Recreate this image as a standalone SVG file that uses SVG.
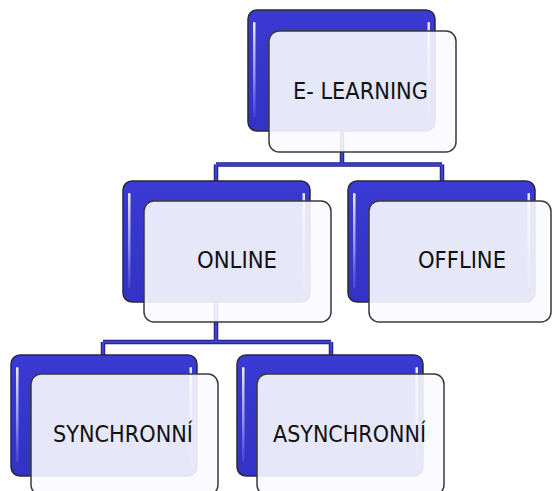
<svg xmlns="http://www.w3.org/2000/svg" width="552" height="491" viewBox="0 0 552 491">
<defs>
<linearGradient id="gBlue" x1="0" y1="0" x2="0" y2="1">
<stop offset="0" stop-color="#3a3ad4"/>
<stop offset="0.5" stop-color="#3636cc"/>
<stop offset="1" stop-color="#3232c4"/>
</linearGradient>
<linearGradient id="gGleam" x1="0" y1="0" x2="0" y2="1">
<stop offset="0" stop-color="#ffffff" stop-opacity="0.9"/>
<stop offset="0.6" stop-color="#c8c8ff" stop-opacity="0.6"/>
<stop offset="1" stop-color="#8080f0" stop-opacity="0.25"/>
</linearGradient>
<style>
.back{fill:url(#gBlue);stroke:#2a2a3a;stroke-width:1.5}
.gleam{fill:url(#gGleam)}
.front{fill:#fbfbff;fill-opacity:0.9;stroke:#3a3a3a;stroke-width:1.5}
.lbl{font-family:"DejaVu Sans Condensed","DejaVu Sans",sans-serif;font-size:22.5px;fill:#111111}
.cOut{fill:none;stroke:#1e1e78;stroke-width:4.5}
.cIn{fill:none;stroke:#4040d4;stroke-width:2.5}
</style>
</defs>
<rect width="552" height="491" fill="#ffffff"/>
<g id="connectors">
<path class="cOut" d="M342,132 V164.5 M216,164.5 H442 M216,164.5 V181 M442,164.5 V181 M216,302 V342 M103,342 H331 M103,342 V355 M331,342 V355"/>
<path class="cIn" d="M342,132 V164.5 M216,164.5 H442 M216,164.5 V181 M442,164.5 V181 M216,302 V342 M103,342 H331 M103,342 V355 M331,342 V355"/>
</g>
<g id="e-learning">
<rect class="back" x="248" y="10" width="187" height="121" rx="9"/>
<rect class="gleam" x="253" y="22" width="2.5" height="95" rx="1.2"/>
<rect class="gleam" x="427.5" y="22" width="2.5" height="95" rx="1.2"/>
<rect class="front" x="269" y="31" width="187" height="121" rx="10"/>
<text class="lbl" x="293" y="98.5" textLength="135" lengthAdjust="spacingAndGlyphs">E- LEARNING</text>
</g>
<g id="online">
<rect class="back" x="123" y="181" width="187" height="121" rx="9"/>
<rect class="gleam" x="128" y="193" width="2.5" height="95" rx="1.2"/>
<rect class="gleam" x="302.5" y="193" width="2.5" height="95" rx="1.2"/>
<rect class="front" x="144" y="201" width="187" height="121" rx="10"/>
<text class="lbl" x="197" y="268" textLength="80" lengthAdjust="spacingAndGlyphs">ONLINE</text>
</g>
<g id="offline">
<rect class="back" x="348" y="181" width="187" height="121" rx="9"/>
<rect class="gleam" x="353" y="193" width="2.5" height="95" rx="1.2"/>
<rect class="gleam" x="527.5" y="193" width="2.5" height="95" rx="1.2"/>
<rect class="front" x="369" y="201" width="182" height="121" rx="10"/>
<text class="lbl" x="418" y="268" textLength="88" lengthAdjust="spacingAndGlyphs">OFFLINE</text>
</g>
<g id="synchronni">
<rect class="back" x="11" y="355" width="186" height="121" rx="9"/>
<rect class="gleam" x="16" y="367" width="2.5" height="95" rx="1.2"/>
<rect class="gleam" x="189.5" y="367" width="2.5" height="95" rx="1.2"/>
<rect class="front" x="31" y="374" width="187" height="121" rx="10"/>
<text class="lbl" x="53" y="442" textLength="140" lengthAdjust="spacingAndGlyphs">SYNCHRONNÍ</text>
</g>
<g id="asynchronni">
<rect class="back" x="237" y="355" width="186" height="121" rx="9"/>
<rect class="gleam" x="242" y="367" width="2.5" height="95" rx="1.2"/>
<rect class="gleam" x="415.5" y="367" width="2.5" height="95" rx="1.2"/>
<rect class="front" x="257" y="374" width="187" height="121" rx="10"/>
<text class="lbl" x="273" y="442" textLength="153" lengthAdjust="spacingAndGlyphs">ASYNCHRONNÍ</text>
</g>
</svg>
